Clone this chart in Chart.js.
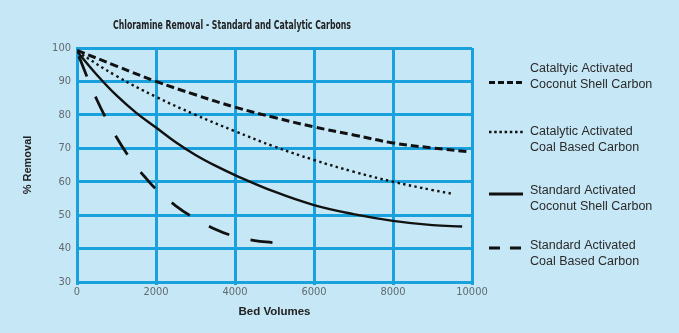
<!DOCTYPE html>
<html>
<head>
<meta charset="utf-8">
<script src="https://cdn.jsdelivr.net/npm/chart.js@4.4.0/dist/chart.umd.min.js"></script>
<style>
  html, body { margin: 0; padding: 0; background: #c6e7f6; }
  canvas { display: block; }
</style>
</head>
<body>
<canvas id="myChart" width="679" height="333"></canvas>
<script>
// Catalytic activated coconut shell carbon (short dashes)
const catCoconutX = [0, 1000, 2000, 3000, 4000, 5000, 6000, 7000, 8000, 9000, 9870];
const catCoconutY = [99.3, 94.6, 90, 86, 82.3, 79.2, 76.4, 74, 71.6, 70.1, 69];

// Catalytic activated coal based carbon (dots)
const catCoalX = [0, 1000, 2000, 3000, 4000, 5000, 6000, 7000, 8000, 9000, 9550];
const catCoalY = [99, 91.6, 85.4, 80, 75.1, 70.5, 66.5, 63, 60, 57.5, 56.3];

// Standard activated coconut shell carbon (solid)
const stdCoconutX = [0, 500, 1000, 1500, 2000, 2500, 3000, 3500, 4000, 5000, 6000, 7000, 8000, 9000, 9750];
const stdCoconutY = [99, 92, 85.8, 80.6, 76.2, 71.8, 68, 64.8, 62, 57, 53, 50.3, 48.3, 47, 46.6];

// Standard activated coal based carbon (long dashes)
const stdCoalX = [0, 250, 500, 750, 1000, 1250, 1500, 1750, 2000, 2500, 3000, 3500, 4000, 4500, 4950];
const stdCoalY = [99, 91.5, 84.6, 78.6, 73.3, 68.6, 64.5, 61, 57.8, 52.8, 48.9, 45.8, 43.6, 42.4, 41.8];

const legendLabels = [
    ['Cataltyic Activated', 'Coconut Shell Carbon'],
    ['Catalytic Activated', 'Coal Based Carbon'],
    ['Standard Activated', 'Coconut Shell Carbon'],
    ['Standard Activated', 'Coal Based Carbon']
];

const xTicks = [0, 2000, 4000, 6000, 8000, 10000];
const yTicks = [30, 40, 50, 60, 70, 80, 90, 100];

const chartTitle = 'Chloramine Removal - Standard and Catalytic Carbons';

function toPoints(xs, ys) {
    return xs.map(function (x, i) { return { x: x, y: ys[i] }; });
}

const gridBlue = '#18a1dc';
const ink = '#111111';

const legendPlugin = {
    id: 'sideLegend',
    afterDraw: function (chart) {
        const ctx = chart.ctx;
        const samples = [
            { y: 82.5, dash: [6, 3], width: 3 },
            { y: 132, dash: [2.5, 2.7], width: 2.5 },
            { y: 194, dash: [], width: 3 },
            { y: 248, dash: [11, 10], width: 3 }
        ];
        const textY = [[69, 84.5], [131.5, 147.5], [190.5, 206.5], [245.5, 261.5]];
        ctx.save();
        samples.forEach(function (s) {
            ctx.beginPath();
            ctx.setLineDash(s.dash);
            ctx.lineWidth = s.width;
            ctx.lineCap = 'butt';
            ctx.strokeStyle = ink;
            ctx.moveTo(489, s.y);
            ctx.lineTo(523, s.y);
            ctx.stroke();
        });
        ctx.setLineDash([]);
        ctx.fillStyle = '#2a2a2a';
        ctx.font = '12.5px "Liberation Sans", Arial, sans-serif';
        ctx.textAlign = 'left';
        ctx.textBaseline = 'middle';
        legendLabels.forEach(function (lines, i) {
            lines.forEach(function (t, j) {
                ctx.fillText(t, 530, textY[i][j]);
            });
        });
        ctx.restore();
    }
};

// title in a narrow bold face, squeezed to the width of the original
const titlePlugin = {
    id: 'topTitle',
    afterDraw: function (chart) {
        const ctx = chart.ctx;
        ctx.save();
        ctx.fillStyle = '#222';
        ctx.font = 'bold 12px "DejaVu Sans Condensed", "DejaVu Sans", sans-serif';
        ctx.textAlign = 'center';
        ctx.textBaseline = 'middle';
        const w = ctx.measureText(chartTitle).width;
        const k = 238 / w;
        ctx.translate(232, 26);
        ctx.scale(k, 1);
        ctx.fillText(chartTitle, 0, 0);
        ctx.restore();
    }
};

const myChartRef = document.getElementById('myChart').getContext('2d');

new Chart(myChartRef, {
    type: 'line',
    data: {
        datasets: [
            {
                label: legendLabels[0].join(' '),
                data: toPoints(catCoconutX, catCoconutY),
                borderColor: ink,
                borderWidth: 3,
                borderDash: [8, 4],
                pointRadius: 0,
                tension: 0.4
            },
            {
                label: legendLabels[1].join(' '),
                data: toPoints(catCoalX, catCoalY),
                borderColor: ink,
                borderWidth: 2.4,
                borderDash: [2.4, 3.4],
                pointRadius: 0,
                tension: 0.4
            },
            {
                label: legendLabels[2].join(' '),
                data: toPoints(stdCoconutX, stdCoconutY),
                borderColor: ink,
                borderWidth: 2.4,
                pointRadius: 0,
                tension: 0.4
            },
            {
                label: legendLabels[3].join(' '),
                data: toPoints(stdCoalX, stdCoalY),
                borderColor: ink,
                borderWidth: 2.8,
                borderDash: [22, 22],
                borderDashOffset: -5,
                pointRadius: 0,
                tension: 0.4
            }
        ]
    },
    options: {
        responsive: false,
        animation: false,
        devicePixelRatio: 1,
        layout: { padding: { left: 0, top: 48, right: 207, bottom: 0 } },
        plugins: {
            legend: { display: false },
            tooltip: { enabled: false },
            title: { display: false }
        },
        scales: {
            x: {
                type: 'linear',
                min: 0,
                max: 10000,
                afterFit: function (scale) { scale.height = 51; },
                afterBuildTicks: function (scale) {
                    scale.ticks = xTicks.map(function (v) { return { value: v }; });
                },
                border: { color: gridBlue, width: 3 },
                grid: { color: gridBlue, lineWidth: 3, tickLength: 3, drawTicks: true },
                ticks: {
                    color: '#606b70',
                    padding: 1,
                    maxRotation: 0,
                    font: { family: '"DejaVu Sans Condensed", "DejaVu Sans", sans-serif', size: 11 },
                    callback: function (v) { return String(v); }
                },
                title: {
                    display: true,
                    text: 'Bed Volumes',
                    color: '#222',
                    padding: { top: 0, bottom: 14 },
                    font: { family: '"Liberation Sans", Arial, sans-serif', size: 11.5, weight: 'bold' }
                }
            },
            y: {
                min: 30,
                max: 100,
                afterFit: function (scale) { scale.width = 77; },
                afterBuildTicks: function (scale) {
                    scale.ticks = yTicks.map(function (v) { return { value: v }; });
                },
                border: { color: gridBlue, width: 3 },
                grid: { color: gridBlue, lineWidth: 3, drawTicks: false },
                ticks: {
                    color: '#606b70',
                    padding: 6,
                    font: { family: '"DejaVu Sans Condensed", "DejaVu Sans", sans-serif', size: 11 }
                },
                title: {
                    display: true,
                    text: '% Removal',
                    color: '#222',
                    padding: { top: 21, bottom: 0 },
                    font: { family: '"Liberation Sans", Arial, sans-serif', size: 11, weight: 'bold' }
                }
            }
        }
    },
    plugins: [legendPlugin, titlePlugin]
});
</script>
</body>
</html>
